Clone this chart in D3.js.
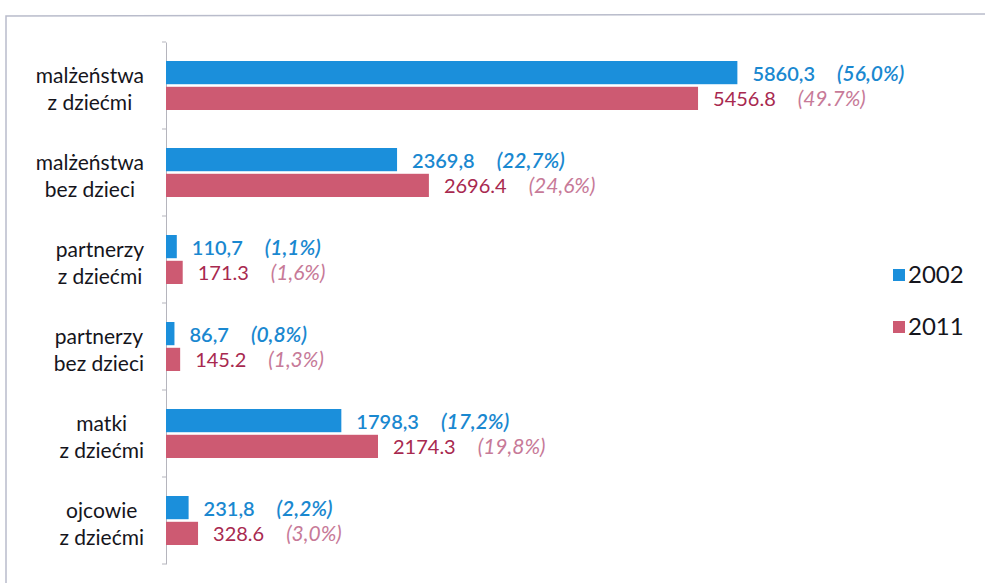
<!DOCTYPE html>
<html><head><meta charset="utf-8">
<script src="https://cdn.jsdelivr.net/npm/d3@7"></script>
<style>
html,body{margin:0;padding:0;background:#fff;}
svg{display:block;}
</style></head>
<body>
<script>
const categories = [
  ["malżeństwa","z dziećmi"],
  ["malżeństwa","bez dzieci"],
  ["partnerzy","z dziećmi"],
  ["partnerzy","bez dzieci"],
  ["matki","z dziećmi"],
  ["ojcowie","z dziećmi"]
];
const years = ["2002","2011"];
const values2002 = [5860.3, 2369.8, 110.7, 86.7, 1798.3, 231.8];
const values2011 = [5456.8, 2696.4, 171.3, 145.2, 2174.3, 328.6];
const numLabels2002 = ["5860,3","2369,8","110,7","86,7","1798,3","231,8"];
const pctLabels2002 = ["(56,0%)","(22,7%)","(1,1%)","(0,8%)","(17,2%)","(2,2%)"];
const numLabels2011 = ["5456.8","2696.4","171.3","145.2","2174.3","328.6"];
const pctLabels2011 = ["(49.7%)","(24,6%)","(1,6%)","(1,3%)","(19,8%)","(3,0%)"];

const W = 985, H = 583;
const colors = {"2002":"#1b8fdb","2011":"#cd5a72"};
const numColors = {"2002":"#1a88d0","2011":"#a8294f"};
const pctColors = {"2002":"#1a88d0","2011":"#c77a98"};

const svg = d3.select("body").append("svg").attr("width",W).attr("height",H);

// frame
svg.append("path").attr("d","M6,583 L6,16 L985,14")
  .attr("fill","none").attr("stroke","#b9bccb").attr("stroke-width",1.5);

const catIdx = d3.range(categories.length);
const y = d3.scaleBand().domain(catIdx).range([42,564]).paddingInner(0).paddingOuter(0);
const ySub = d3.scaleBand().domain(years).range([19,68]).paddingInner(0.1);
const x = d3.scaleLinear().domain([0,7000]).range([166,848.5]);

const data = catIdx.map(i => ({i, vals:[
  {year:"2002", v:values2002[i], num:numLabels2002[i], pct:pctLabels2002[i]},
  {year:"2011", v:values2011[i], num:numLabels2011[i], pct:pctLabels2011[i]}
]}));

// axis
const axis = d3.axisLeft(y).tickSizeOuter(0).tickSizeInner(0).tickFormat("");
const ag = svg.append("g").attr("transform","translate(166,0)").call(axis);
ag.select(".domain").attr("stroke","#b5b5bd");
const bounds = catIdx.map(i=>y(i)).concat([y(catIdx[catIdx.length-1])+y.bandwidth()]);
svg.selectAll("line.bt").data(bounds).join("line").attr("class","bt")
  .attr("x1",162).attr("x2",166).attr("y1",d=>d).attr("y2",d=>d)
  .attr("stroke","#b5b5bd");

const groups = svg.selectAll("g.cat").data(data).join("g").attr("class","cat")
  .attr("transform",d=>`translate(0,${y(d.i)})`);

groups.selectAll("rect").data(d=>d.vals).join("rect")
  .attr("x",x(0)).attr("y",d=>ySub(d.year))
  .attr("width",d=>x(d.v)-x(0)).attr("height",ySub.bandwidth())
  .attr("fill",d=>colors[d.year]);

const vl = groups.selectAll("text.val").data(d=>d.vals).join("text").attr("class","val")
  .attr("x",d=>x(d.v)+15).attr("y",d=>ySub(d.year)+ySub.bandwidth()/2+1)
  .attr("dy","0.35em")
  .style("font-family","Lato, 'Open Sans', sans-serif").style("font-size","20px");
vl.append("tspan").text(d=>d.num).attr("fill",d=>numColors[d.year])
  .style("font-weight",d=>d.year==="2002"?"600":"400");
vl.append("tspan").attr("dx",22).text(d=>d.pct).attr("fill",d=>pctColors[d.year])
  .style("font-size","21px")
  .style("font-style","italic").style("font-weight",d=>d.year==="2002"?"600":"400");

// category labels: block right-aligned, lines centered in block
groups.each(function(d){
  const g = d3.select(this);
  const texts = g.selectAll("text.cl").data(categories[d.i]).join("text").attr("class","cl")
    .attr("text-anchor","middle")
    .attr("y",(t,k)=> y.bandwidth()/2 + (k===0?-9.5:17.5))
    .attr("dy","0.35em")
    .attr("fill","#15151c")
    .style("font-family","Lato, 'Open Sans', sans-serif").style("font-size","21px")
    .text(t=>t);
  let maxW = 0;
  texts.each(function(){ maxW = Math.max(maxW, this.getComputedTextLength()); });
  texts.attr("x", 144 - maxW/2);
});

// legend
const leg = svg.append("g");
const legY = d3.scalePoint().domain(years).range([275,327]);
leg.selectAll("rect").data(years).join("rect")
  .attr("x",893).attr("y",d=>legY(d)-6).attr("width",12).attr("height",12)
  .attr("fill",d=>colors[d]);
leg.selectAll("text").data(years).join("text")
  .attr("x",908).attr("y",d=>legY(d)).attr("dy","0.35em")
  .attr("fill","#15151c")
  .style("font-family","Lato, 'Open Sans', sans-serif").style("font-size","24px")
  .text(d=>d);
</script>
</body></html>
